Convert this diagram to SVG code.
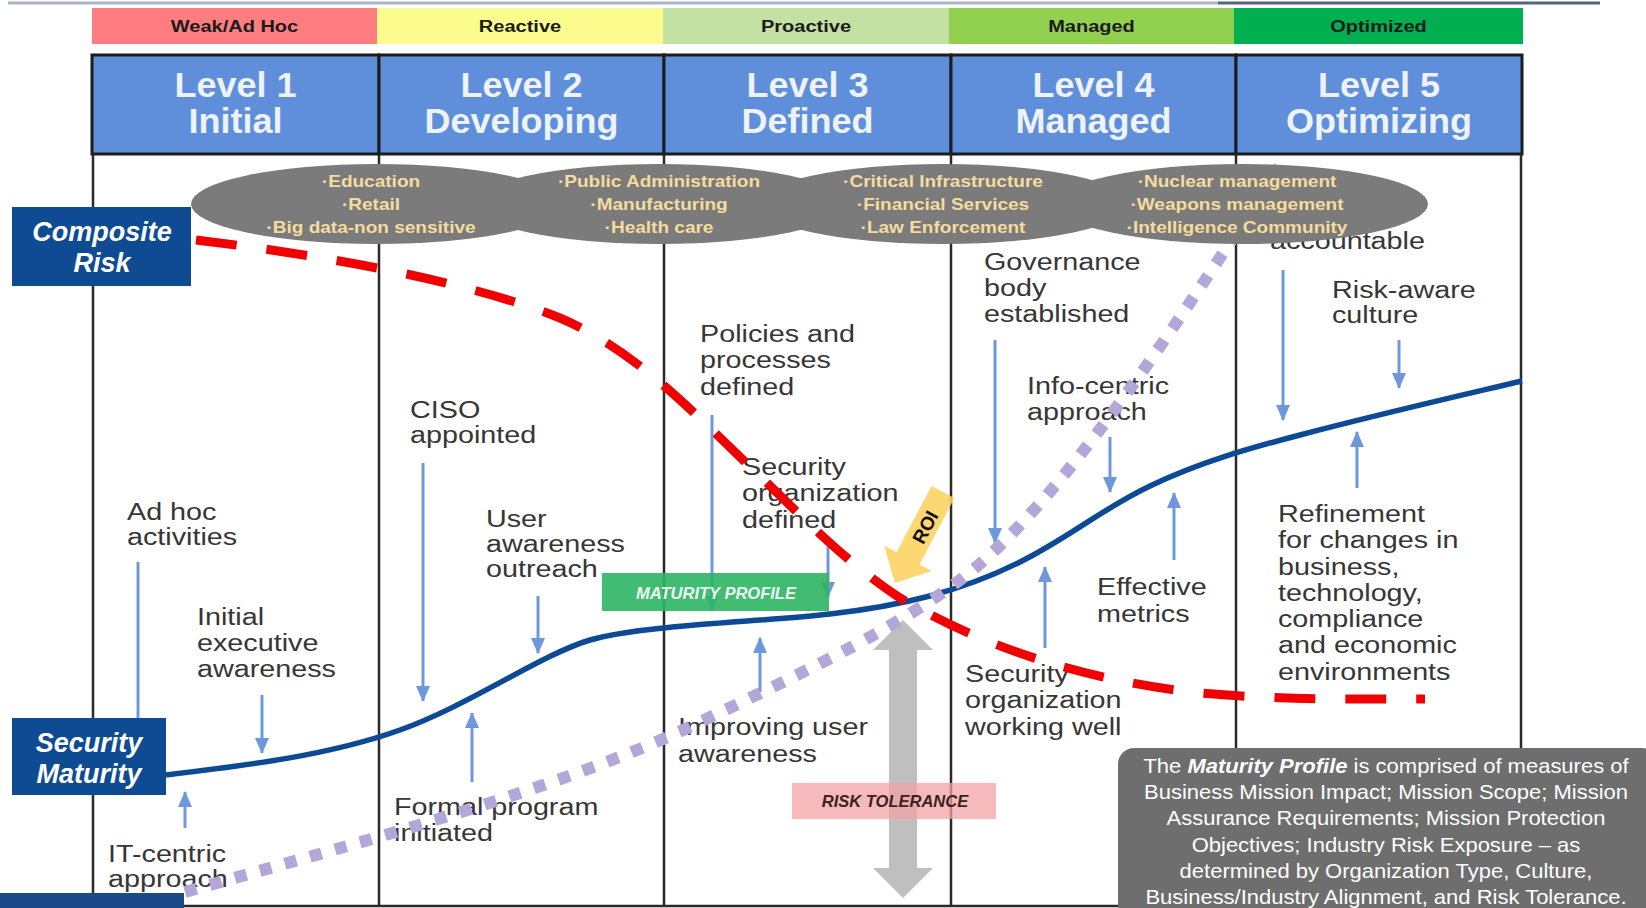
<svg xmlns="http://www.w3.org/2000/svg" width="1646" height="908" viewBox="0 0 1646 908">
<defs>
<marker id="ah" viewBox="0 0 16 14" refX="15" refY="7" markerWidth="16" markerHeight="14" markerUnits="userSpaceOnUse" orient="auto">
<path d="M0,0 L16,7 L0,14 z" fill="#6f98dc"/>
</marker>
<style>
.bl{font-family:"Liberation Sans",Arial,sans-serif;font-weight:bold;font-size:16px;fill:#1b1b1b;text-anchor:middle}
.hd{fill:#5f8fdb;stroke:#1c1c1c;stroke-width:3}
.ht{font-family:"Liberation Sans",Arial,sans-serif;font-weight:bold;font-size:35px;fill:#eef2f9;text-anchor:middle}
.col{stroke:#2a2a2a;stroke-width:2.5}
.b{font-family:"Liberation Sans",Arial,sans-serif;font-size:23px;fill:#363636}
.arr{stroke:#6f98dc;stroke-width:3;fill:none;marker-end:url(#ah)}
.ell{fill:#7b7b7b}
.et{font-family:"Liberation Sans",Arial,sans-serif;font-weight:bold;font-size:17px;fill:#f4dc9e;text-anchor:middle}
.lab{fill:#0e4b93}
.lt{font-family:"Liberation Sans",Arial,sans-serif;font-weight:bold;font-style:italic;font-size:27px;fill:#fff;text-anchor:middle}
.nt{font-family:"Liberation Sans",Arial,sans-serif;font-size:20px;fill:#fff;text-anchor:middle}
.tag{font-family:"Liberation Sans",Arial,sans-serif;font-weight:bold;font-style:italic;font-size:16.5px;text-anchor:middle}
</style>
</defs>
<rect width="1646" height="908" fill="#fff"/>
<rect x="8" y="1.5" width="1210" height="3" fill="#aab4c8"/>
<rect x="1218" y="1.5" width="382" height="3" fill="#56657f"/>

<g id="bands">
<g id="band-weak"><rect x="92" y="8" width="285" height="36" fill="#ff7c80"/><text class="bl" transform="translate(234.5,32) scale(1.25,1)">Weak/Ad Hoc</text></g>
<g id="band-reactive"><rect x="377" y="8" width="286" height="36" fill="#fcfc8e"/><text class="bl" transform="translate(520,32) scale(1.25,1)">Reactive</text></g>
<g id="band-proactive"><rect x="663" y="8" width="286" height="36" fill="#c4e1a4"/><text class="bl" transform="translate(806,32) scale(1.25,1)">Proactive</text></g>
<g id="band-managed"><rect x="949" y="8" width="285" height="36" fill="#92d050"/><text class="bl" transform="translate(1091.5,32) scale(1.25,1)">Managed</text></g>
<g id="band-optimized"><rect x="1234" y="8" width="289" height="36" fill="#00b050"/><text class="bl" transform="translate(1378.5,32) scale(1.25,1)">Optimized</text></g>
</g>

<g id="headers">
<g id="level1"><rect class="hd" x="92" y="55" width="287" height="99"/><text class="ht" transform="translate(235.5,97) scale(1.03,1)"><tspan x="0">Level 1</tspan><tspan x="0" dy="36">Initial</tspan></text></g>
<g id="level2"><rect class="hd" x="379" y="55" width="285" height="99"/><text class="ht" transform="translate(521.5,97) scale(1.03,1)"><tspan x="0">Level 2</tspan><tspan x="0" dy="36">Developing</tspan></text></g>
<g id="level3"><rect class="hd" x="664" y="55" width="287" height="99"/><text class="ht" transform="translate(807.5,97) scale(1.03,1)"><tspan x="0">Level 3</tspan><tspan x="0" dy="36">Defined</tspan></text></g>
<g id="level4"><rect class="hd" x="951" y="55" width="285" height="99"/><text class="ht" transform="translate(1093.5,97) scale(1.03,1)"><tspan x="0">Level 4</tspan><tspan x="0" dy="36">Managed</tspan></text></g>
<g id="level5"><rect class="hd" x="1236" y="55" width="286" height="99"/><text class="ht" transform="translate(1379,97) scale(1.03,1)"><tspan x="0">Level 5</tspan><tspan x="0" dy="36">Optimizing</tspan></text></g>
</g>

<g id="grid">
<line class="col" x1="93" y1="154" x2="93" y2="906"/>
<line class="col" x1="379" y1="154" x2="379" y2="906"/>
<line class="col" x1="664" y1="154" x2="664" y2="906"/>
<line class="col" x1="951" y1="154" x2="951" y2="906"/>
<line class="col" x1="1236" y1="154" x2="1236" y2="906"/>
<line class="col" x1="1521" y1="154" x2="1521" y2="906"/>
<line class="col" x1="93" y1="906" x2="1521" y2="906"/>
</g>

<g id="labels">
<g id="l1-adhoc"><text class="b" transform="translate(127,520) scale(1.25,1)"><tspan x="0">Ad hoc</tspan><tspan x="0" dy="25.5">activities</tspan></text></g>
<g id="l1-initial"><text class="b" transform="translate(197,625) scale(1.25,1)"><tspan x="0">Initial</tspan><tspan x="0" dy="26">executive</tspan><tspan x="0" dy="26">awareness</tspan></text></g>
<g id="l1-it"><text class="b" transform="translate(108,862) scale(1.25,1)"><tspan x="0">IT-centric</tspan><tspan x="0" dy="25">approach</tspan></text></g>
<g id="l2-ciso"><text class="b" transform="translate(410,418) scale(1.25,1)"><tspan x="0">CISO</tspan><tspan x="0" dy="25">appointed</tspan></text></g>
<g id="l2-user"><text class="b" transform="translate(486,527) scale(1.25,1)"><tspan x="0">User</tspan><tspan x="0" dy="25">awareness</tspan><tspan x="0" dy="25">outreach</tspan></text></g>
<g id="l2-formal"><text class="b" transform="translate(394,815) scale(1.25,1)"><tspan x="0">Formal program</tspan><tspan x="0" dy="26">initiated</tspan></text></g>
<g id="l3-policies"><text class="b" transform="translate(700,342) scale(1.25,1)"><tspan x="0">Policies and</tspan><tspan x="0" dy="26.5">processes</tspan><tspan x="0" dy="26.5">defined</tspan></text></g>
<g id="l3-secorg"><text class="b" transform="translate(742,475) scale(1.25,1)"><tspan x="0">Security</tspan><tspan x="0" dy="26.5">organization</tspan><tspan x="0" dy="26.5">defined</tspan></text></g>
<g id="l3-improving"><text class="b" transform="translate(678,735) scale(1.25,1)"><tspan x="0">Improving user</tspan><tspan x="0" dy="27">awareness</tspan></text></g>
<g id="l4-gov"><text class="b" transform="translate(984,270) scale(1.25,1)"><tspan x="0">Governance</tspan><tspan x="0" dy="26">body</tspan><tspan x="0" dy="26">established</tspan></text></g>
<g id="l4-info"><text class="b" transform="translate(1027,394) scale(1.25,1)"><tspan x="0">Info-centric</tspan><tspan x="0" dy="26">approach</tspan></text></g>
<g id="l4-eff"><text class="b" transform="translate(1097,595) scale(1.25,1)"><tspan x="0">Effective</tspan><tspan x="0" dy="27">metrics</tspan></text></g>
<g id="l4-secwork"><text class="b" transform="translate(965,682) scale(1.25,1)"><tspan x="0">Security</tspan><tspan x="0" dy="26.5">organization</tspan><tspan x="0" dy="26.5">working well</tspan></text></g>
<g id="l5-acc"><text class="b" transform="translate(1270,249) scale(1.25,1)">accountable</text></g>
<g id="l5-risk"><text class="b" transform="translate(1332,298) scale(1.25,1)"><tspan x="0">Risk-aware</tspan><tspan x="0" dy="25">culture</tspan></text></g>
<g id="l5-ref"><text class="b" transform="translate(1278,522) scale(1.25,1)"><tspan x="0">Refinement</tspan><tspan x="0" dy="26.3">for changes in</tspan><tspan x="0" dy="26.3">business,</tspan><tspan x="0" dy="26.3">technology,</tspan><tspan x="0" dy="26.3">compliance</tspan><tspan x="0" dy="26.3">and economic</tspan><tspan x="0" dy="26.3">environments</tspan></text></g>
</g>

<g id="connectors">
<g id="arrows">
<line class="arr" x1="138" y1="562" x2="138" y2="745"/>
<line class="arr" x1="262" y1="695" x2="262" y2="753"/>
<line class="arr" x1="185" y1="828" x2="185" y2="792"/>
<line class="arr" x1="423" y1="463" x2="423" y2="701"/>
<line class="arr" x1="538" y1="596" x2="538" y2="653"/>
<line class="arr" x1="472" y1="782" x2="472" y2="713"/>
<line class="arr" x1="712" y1="415" x2="712" y2="611"/>
<line class="arr" x1="828" y1="547" x2="828" y2="597"/>
<line class="arr" x1="760" y1="692" x2="760" y2="638"/>
<line class="arr" x1="995" y1="340" x2="995" y2="543"/>
<line class="arr" x1="1110" y1="437" x2="1110" y2="492"/>
<line class="arr" x1="1174" y1="560" x2="1174" y2="493"/>
<line class="arr" x1="1045" y1="648" x2="1045" y2="567"/>
<line class="arr" x1="1283" y1="270" x2="1283" y2="420"/>
<line class="arr" x1="1399" y1="340" x2="1399" y2="388"/>
<line class="arr" x1="1357" y1="488" x2="1357" y2="432"/>
</g>
<path id="risk-tolerance-arrow" d="M903,620 L933,650 L917,650 L917,868 L933,868 L903,898 L873,868 L889,868 L889,650 L873,650 Z" fill="#bfbfbf"/>
<g id="roi"><path transform="translate(943,492) rotate(117.8)" d="M0,-13 L75,-13 L75,-27 L103,0 L75,27 L75,13 L0,13 Z" fill="#fdd35e" opacity="0.88"/>
<text transform="translate(925,527) rotate(-62.2)" font-family="Liberation Sans, Arial, sans-serif" font-weight="bold" font-size="19" fill="#111" text-anchor="middle" dy="7">ROI</text></g>
<path id="security-maturity-curve" d="M166,775 C 250,765 330,755 400,730 C 470,705 540,655 590,640 C 640,625 760,622 830,614 C 900,606 960,592 1020,562 C 1070,537 1100,510 1150,486 C 1200,462 1250,448 1300,435 C 1380,414 1450,398 1522,381" fill="none" stroke="#0d4a96" stroke-width="5.5"/>
<path id="roi-curve" d="M185,892 C 350,845 560,790 700,722 C 820,665 900,625 960,580 C 1060,505 1180,320 1285,158" fill="none" stroke="#b3a6d8" stroke-width="12" stroke-dasharray="12 14"/>
<path id="composite-risk-curve" d="M196,240 C 330,256 470,282 560,318 C 640,352 700,420 760,476 C 810,525 850,565 900,598 C 980,645 1080,680 1200,693 C 1280,700 1350,699 1425,699" fill="none" stroke="#f00000" stroke-width="9" stroke-dasharray="41 30"/>
</g>

<g id="maturity-profile"><rect x="602" y="573" width="227" height="38" fill="#2fb564" opacity="0.9"/><text class="tag" x="716" y="599" fill="#eef8f0">MATURITY PROFILE</text></g>
<g id="risk-tolerance"><rect x="792" y="783" width="204" height="36" fill="#f4a3a6" opacity="0.75"/><text class="tag" x="895" y="807" fill="#3a2222" font-size="17">RISK TOLERANCE</text></g>

<g id="industries">
<ellipse class="ell" cx="377" cy="204" rx="186" ry="40"/>
<ellipse class="ell" cx="659" cy="204" rx="186" ry="40"/>
<ellipse class="ell" cx="943" cy="204" rx="186" ry="40"/>
<ellipse class="ell" cx="1242" cy="204" rx="186" ry="40"/>
<g id="ind1"><text class="et" transform="translate(371,187) scale(1.12,1)"><tspan x="0">·Education</tspan><tspan x="0" dy="23">·Retail</tspan><tspan x="0" dy="23">·Big data-non sensitive</tspan></text></g>
<g id="ind2"><text class="et" transform="translate(659,187) scale(1.12,1)"><tspan x="0">·Public Administration</tspan><tspan x="0" dy="23">·Manufacturing</tspan><tspan x="0" dy="23">·Health care</tspan></text></g>
<g id="ind3"><text class="et" transform="translate(943,187) scale(1.12,1)"><tspan x="0">·Critical Infrastructure</tspan><tspan x="0" dy="23">·Financial Services</tspan><tspan x="0" dy="23">·Law Enforcement</tspan></text></g>
<g id="ind4"><text class="et" transform="translate(1237,187) scale(1.12,1)"><tspan x="0">·Nuclear management</tspan><tspan x="0" dy="23">·Weapons management</tspan><tspan x="0" dy="23">·Intelligence Community</tspan></text></g>
</g>

<g id="composite-risk"><rect class="lab" x="12" y="207" width="179" height="79"/><text class="lt" x="102" y="241">Composite</text><text class="lt" x="102" y="272">Risk</text></g>
<g id="security-maturity"><rect class="lab" x="12" y="718" width="154" height="77"/><text class="lt" x="89" y="752">Security</text><text class="lt" x="89" y="783">Maturity</text></g>
<rect x="0" y="893" width="184" height="15" fill="#1a4a8a"/>

<g id="note"><rect x="1118" y="748" width="540" height="190" rx="16" fill="#6e6e6e"/>
<text class="nt" transform="translate(1386,773) scale(1.1,1)"><tspan x="0">The <tspan font-style="italic" font-weight="bold">Maturity Profile</tspan> is comprised of measures of</tspan><tspan x="0" dy="26.2">Business Mission Impact; Mission Scope; Mission</tspan><tspan x="0" dy="26.2">Assurance Requirements; Mission Protection</tspan><tspan x="0" dy="26.2">Objectives; Industry Risk Exposure – as</tspan><tspan x="0" dy="26.2">determined by Organization Type, Culture,</tspan><tspan x="0" dy="26.2">Business/Industry  Alignment, and Risk Tolerance.</tspan></text></g>
</svg>
